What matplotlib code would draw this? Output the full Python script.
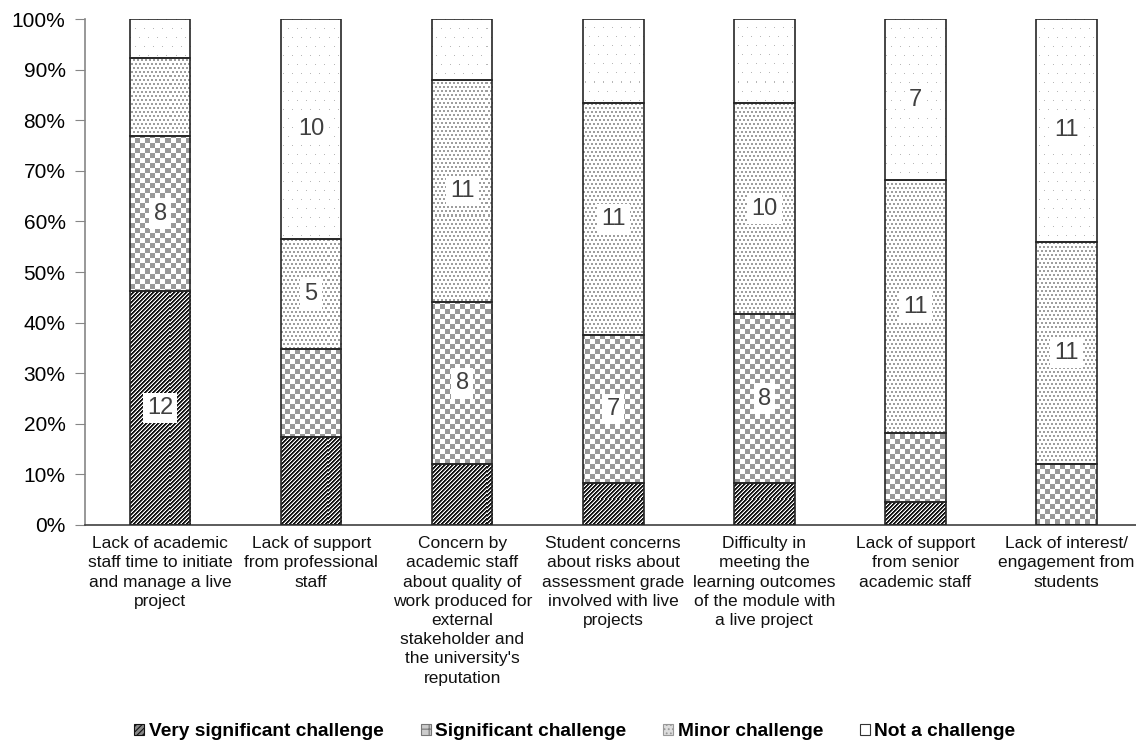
import matplotlib
matplotlib.use("Agg")
import matplotlib.pyplot as plt
import numpy as np
from matplotlib.patches import Patch
from matplotlib.ticker import PercentFormatter

plt.rcParams['font.family'] = ['Liberation Sans', 'DejaVu Sans']
plt.rcParams['hatch.linewidth'] = 0.8

categories = [
    "Lack of academic\nstaff time to initiate\nand manage a live\nproject",
    "Lack of support\nfrom professional\nstaff",
    "Concern by\nacademic staff\nabout quality of\nwork produced for\nexternal\nstakeholder and\nthe university's\nreputation",
    "Student concerns\nabout risks about\nassessment grade\ninvolved with live\nprojects",
    "Difficulty in\nmeeting the\nlearning outcomes\nof the module with\na live project",
    "Lack of support\nfrom senior\nacademic staff",
    "Lack of interest/\nengagement from\nstudents",
]
series = ["Very significant challenge", "Significant challenge",
          "Minor challenge", "Not a challenge"]

# number of respondents per answer
very_significant = [12, 4, 3, 2, 2, 1, 0]
significant = [8, 4, 8, 7, 8, 3, 3]
minor = [4, 5, 11, 11, 10, 11, 11]
not_challenge = [2, 10, 3, 4, 4, 7, 11]

counts = np.array([very_significant, significant, minor, not_challenge], dtype=float)
totals = counts.sum(axis=0)
shares = counts / totals

W, H = 1136, 749
AX_W, AX_H = 1051, 506
fig = plt.figure(figsize=(W / 100, H / 100), dpi=100)
ax = fig.add_axes([85 / W, (H - 525) / H, AX_W / W, AX_H / H])
xlim = (-0.497, 6.46)

x = np.arange(len(categories))
width = 0.4

# pixel textures, one array cell per screen pixel (row 0 = top)
rr, cc = np.mgrid[0:AX_H, 0:AX_W]


def texture(gray):
    img = np.ones((AX_H, AX_W, 3))
    img[...] = gray[..., None]
    return img


stripes = np.ones((AX_H, AX_W))
phase = (rr + cc) % 4
stripes[phase < 2] = 0.08
stripes[phase == 2] = 0.55

checker = np.where(((rr // 5) + (cc // 5)) % 2 == 0, 0.6, 1.0)

stipple = np.ones((AX_H, AX_W))
shift = ((rr // 4) % 2) * 2
stipple[((rr % 4) < 2) & (((cc + shift) % 4) < 2)] = 0.62

sparse = np.ones((AX_H, AX_W))
shift2 = ((rr // 9) % 2) * 4
sparse[((rr % 9) == 0) & (((cc + shift2) % 9) == 0)] = 0.72

textures = [texture(stripes), texture(checker), texture(stipple), texture(sparse)]

bottom = np.zeros(len(categories))
for i, name in enumerate(series):
    fill = ax.bar(x, shares[i], width, bottom=bottom, facecolor='white',
                  linewidth=0, zorder=2)
    for b in fill:
        if b.get_height() <= 0:
            continue
        im = ax.imshow(textures[i], extent=[xlim[0], xlim[1], 0, 1], aspect='auto',
                       interpolation='nearest', origin='upper', zorder=2.5)
        im.set_clip_path(b)
    ax.bar(x, shares[i], width, bottom=bottom, fill=False,
           edgecolor='#262626', linewidth=1.2, zorder=3)
    for j in range(len(categories)):
        if counts[i, j] >= 5:
            ax.text(x[j], bottom[j] + shares[i, j] / 2, f"{int(counts[i, j])}",
                    ha='center', va='center', fontsize=17, color='#404040', zorder=4,
                    bbox=dict(facecolor='white', edgecolor='none', pad=3))
    bottom += shares[i]

ax.set_xlim(*xlim)
ax.set_ylim(0, 1)
ax.set_yticks(np.linspace(0, 1, 11))
ax.yaxis.set_major_formatter(PercentFormatter(1.0, decimals=0))
ax.tick_params(axis='y', labelsize=15, length=7, color='#868686', pad=7)
ax.set_xticks(x)
ax.set_xticklabels(categories, fontsize=12.5, linespacing=1.35, color='#111111')
ax.tick_params(axis='x', length=0, pad=8)
for side in ['top', 'right']:
    ax.spines[side].set_visible(False)
ax.spines['left'].set_color('#868686')
ax.spines['bottom'].set_color('#404040')
ax.spines['left'].set_linewidth(1.2)
ax.spines['bottom'].set_linewidth(1.2)

handles = [
    Patch(facecolor='#888888', edgecolor='#111111', hatch='//////', linewidth=0.8),
    Patch(facecolor='#cccccc', edgecolor='#777777', hatch='++', linewidth=0.8),
    Patch(facecolor='#dddddd', edgecolor='#999999', hatch='....', linewidth=0.8),
    Patch(facecolor='white', edgecolor='#333333', linewidth=0.8),
]
fig.legend(handles, series, loc='center', bbox_to_anchor=(575 / W, (H - 732) / H),
           ncol=4, frameon=False, handlelength=0.52, handleheight=0.52,
           handletextpad=0.22, columnspacing=1.95,
           prop=dict(weight='bold', size=13.8))

fig.savefig('out.png', dpi=100)
